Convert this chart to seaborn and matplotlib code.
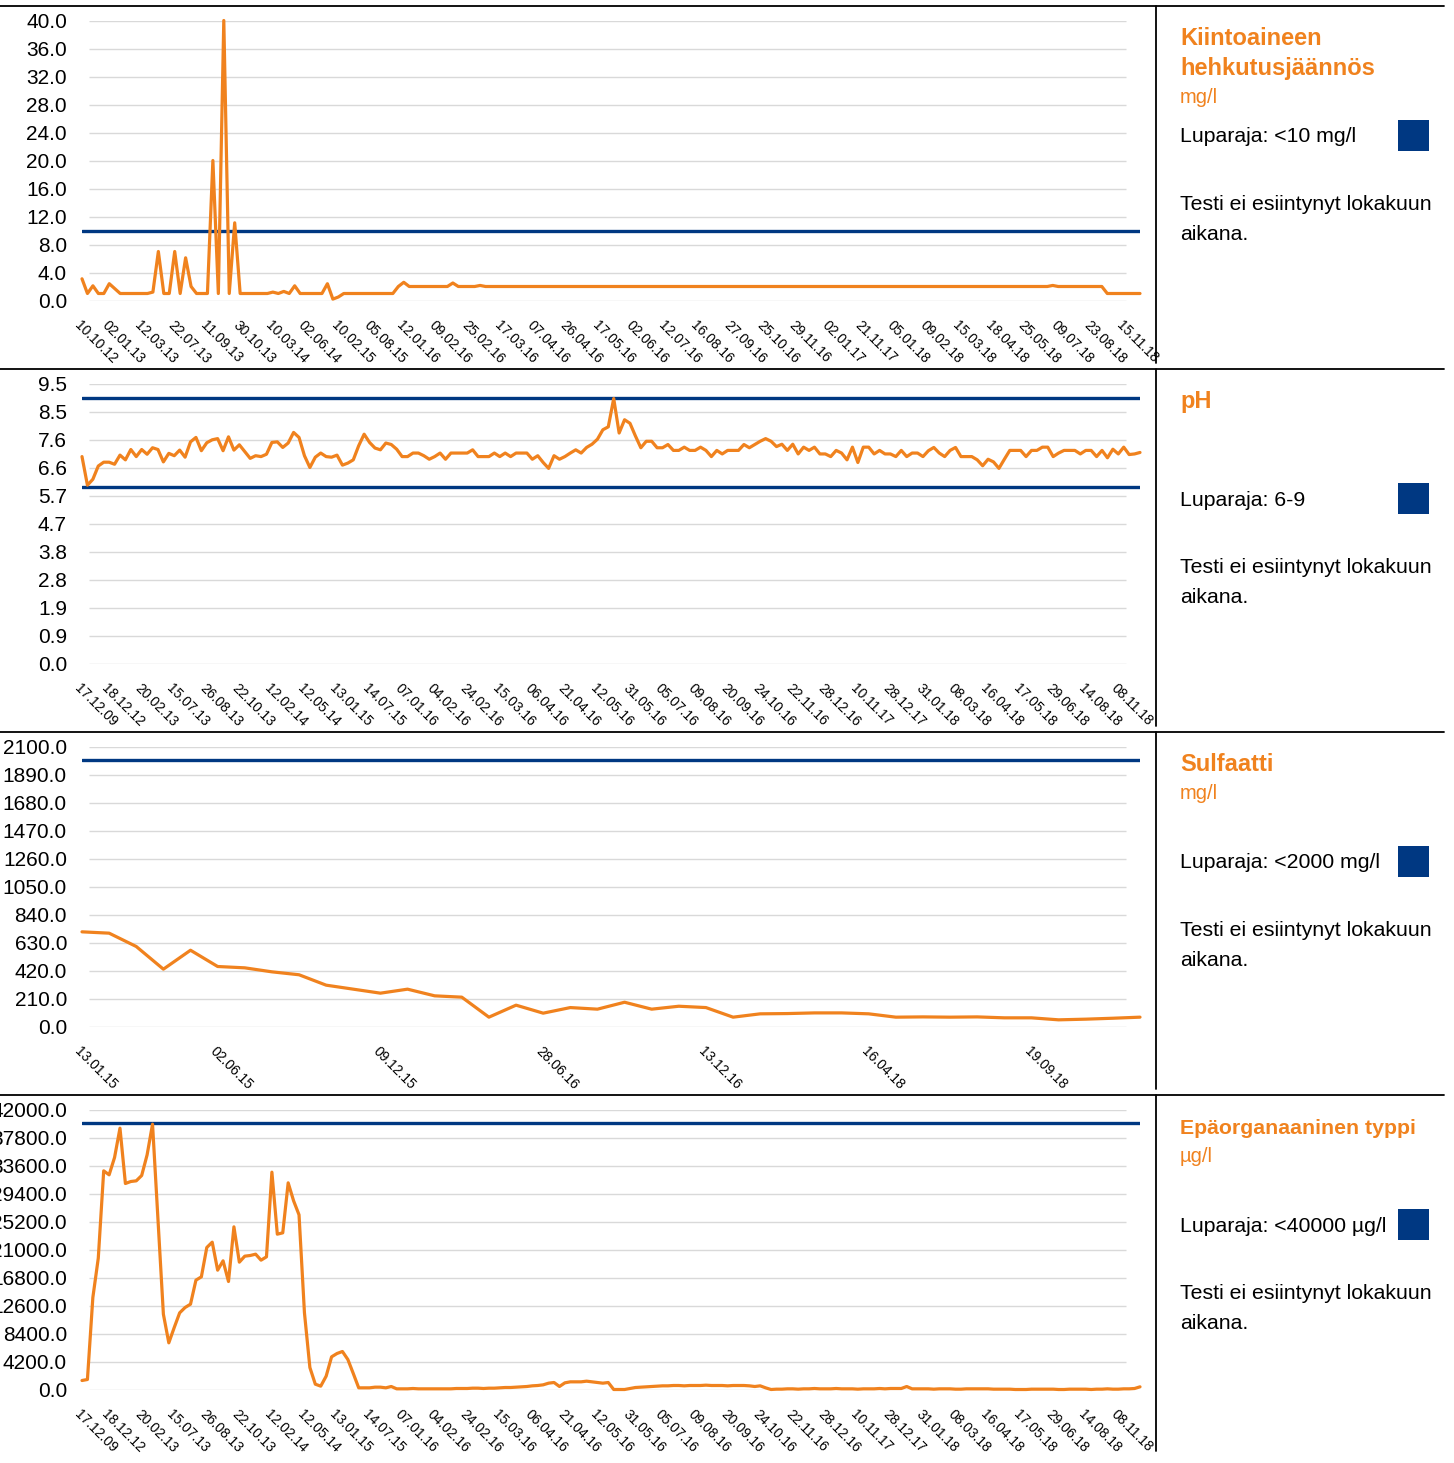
import matplotlib
matplotlib.use("Agg")
import matplotlib.pyplot as plt
from matplotlib.lines import Line2D
from matplotlib.patches import Rectangle
import numpy as np
import seaborn as sns

W, H = 1454, 1463
ORANGE = "#F0821E"
NAVY = "#003882"
GRID = "#D9D9D9"

# ---- panel 1: Kiintoaineen hehkutusjäännös, mg/l
solids = ([3.1, 1.0, 2.1, 1.0, 1.0, 2.4, 1.7, 1.0, 1.0, 1.0,
           1.0, 1.0, 1.0, 1.2, 7.0, 1.0, 1.0, 7.0, 1.0, 6.1,
           2.0, 1.0, 1.0, 1.0, 20.0, 1.0, 40.0, 1.0, 11.1, 1.0]
          + [1.0] * 5
          + [1.2, 1.0, 1.3, 1.0, 2.1, 1.0, 1.0, 1.0, 1.0, 1.0]
          + [2.4, 0.2, 0.5]
          + [1.0] * 10
          + [2.0, 2.6] + [2.0] * 8 + [2.5] + [2.0] * 4 + [2.15]
          + [2.0] * 104 + [2.15] + [2.0] * 9 + [1.0] * 7)
solids_dates = ["10.10.12", "02.01.13", "12.03.13", "22.07.13", "11.09.13", "30.10.13",
                "10.03.14", "02.06.14", "10.02.15", "05.08.15", "12.01.16", "09.02.16",
                "25.02.16", "17.03.16", "07.04.16", "26.04.16", "17.05.16", "02.06.16",
                "12.07.16", "16.08.16", "27.09.16", "25.10.16", "29.11.16", "02.01.17",
                "21.11.17", "05.01.18", "09.02.18", "15.03.18", "18.04.18", "25.05.18",
                "09.07.18", "23.08.18", "15.11.18"]
solids_yticks = [0, 4, 8, 12, 16, 20, 24, 28, 32, 36, 40]
solids_ylabels = ["0.0", "4.0", "8.0", "12.0", "16.0", "20.0", "24.0", "28.0", "32.0", "36.0", "40.0"]

# ---- panel 2: pH
ph = [7.02, 6.05, 6.25, 6.7, 6.83, 6.83, 6.76, 7.07, 6.91, 7.26,
      7.02, 7.26, 7.1, 7.32, 7.26, 6.84, 7.13, 7.05, 7.24, 7.0,
      7.52, 7.67, 7.22, 7.49, 7.59, 7.63, 7.22, 7.69, 7.24, 7.42,
      7.19, 6.96, 7.05, 7.02, 7.1, 7.5, 7.52, 7.33, 7.48, 7.84,
      7.67, 7.05, 6.65, 7.0, 7.14, 7.02, 7.0, 7.07, 6.73, 6.8,
      6.91, 7.39, 7.78, 7.5, 7.31, 7.25, 7.48, 7.43, 7.27,
      7.02, 7.02, 7.14, 7.14, 7.05, 6.93, 7.02, 7.14, 6.93, 7.14,
      7.14, 7.14, 7.14, 7.25, 7.02, 7.02, 7.02, 7.14, 7.02, 7.14,
      7.02, 7.14, 7.14, 7.14, 6.93, 7.05, 6.82, 6.62, 7.05, 6.93,
      7.02, 7.14, 7.25, 7.14, 7.33, 7.44, 7.61, 7.93, 8.03, 8.99,
      7.82, 8.27, 8.15, 7.72, 7.32, 7.54, 7.54, 7.32, 7.32, 7.43,
      7.23, 7.23, 7.34, 7.23, 7.23, 7.34, 7.23, 7.02, 7.23, 7.11,
      7.23, 7.23, 7.23, 7.43, 7.32, 7.43, 7.54, 7.63, 7.54, 7.36,
      7.44, 7.23, 7.44, 7.11, 7.34, 7.23, 7.34, 7.11, 7.11, 7.02,
      7.23, 7.14, 6.91, 7.34, 6.82, 7.34, 7.34, 7.11, 7.23, 7.11,
      7.11, 7.02, 7.23, 7.02, 7.14, 7.14, 7.02, 7.22, 7.33, 7.14,
      7.02, 7.23, 7.33, 7.02, 7.02, 7.02, 6.91, 6.71, 6.93, 6.84,
      6.62, 6.93, 7.23, 7.23, 7.23, 7.02, 7.23, 7.23, 7.34, 7.34,
      7.02, 7.14, 7.23, 7.23, 7.23, 7.11, 7.23, 7.23, 7.02, 7.23,
      6.98, 7.27, 7.11, 7.34, 7.09, 7.11, 7.16]
ph_dates = ["17.12.09", "18.12.12", "20.02.13", "15.07.13", "26.08.13", "22.10.13",
            "12.02.14", "12.05.14", "13.01.15", "14.07.15", "07.01.16", "04.02.16",
            "24.02.16", "15.03.16", "06.04.16", "21.04.16", "12.05.16", "31.05.16",
            "05.07.16", "09.08.16", "20.09.16", "24.10.16", "22.11.16", "28.12.16",
            "10.11.17", "28.12.17", "31.01.18", "08.03.18", "16.04.18", "17.05.18",
            "29.06.18", "14.08.18", "08.11.18"]
ph_yticks = [0, 0.95, 1.9, 2.85, 3.8, 4.75, 5.7, 6.65, 7.6, 8.55, 9.5]
ph_ylabels = ["0.0", "0.9", "1.9", "2.8", "3.8", "4.7", "5.7", "6.6", "7.6", "8.5", "9.5"]

# ---- panel 3: Sulfaatti, mg/l
sulfate = [710, 700, 600, 430, 572, 450, 440, 410, 388, 310,
           280, 250, 280, 230, 220, 70, 160, 100, 142, 130,
           182, 130, 152, 142, 70, 95, 97, 102, 102, 95,
           70, 72, 70, 72, 65, 65, 50, 55, 62, 70]
sulfate_dates = ["13.01.15", "02.06.15", "09.12.15", "28.06.16", "13.12.16", "16.04.18", "19.09.18"]
sulfate_yticks = [0, 210, 420, 630, 840, 1050, 1260, 1470, 1680, 1890, 2100]
sulfate_ylabels = [f"{v:.1f}" for v in sulfate_yticks]

# ---- panel 4: Epäorganaaninen typpi, µg/l (same sampling dates as pH)
nitrogen = ([1350, 1500, 13800, 19700, 32800, 32200, 34800, 39200, 30900, 31200,
             31300, 32100, 35200, 39800, 25500, 11300, 7000, 9300, 11500, 12300,
             12800, 16400, 16900, 21300, 22100, 17900, 19300, 16200, 24400, 19100,
             20000, 20100, 20300, 19400, 19900, 32600, 23300, 23500, 31000, 28300,
             26200, 11500, 3300, 800, 500, 2000, 4900, 5400, 5700, 4500,
             2400, 250, 250, 250, 350, 350, 250, 450, 100]
            + [100, 100, 150, 100, 100, 100, 100, 100, 100, 100, 150, 150, 150, 200, 200, 150, 200]
            + [200, 250, 300, 300, 350, 400, 450, 550, 600, 700, 950,
               1050, 450, 1000, 1150, 1150, 1150, 1250, 1150, 1050, 950, 1050]
            + [0, 0, 0, 150, 300, 350, 400, 450, 500]
            + [550, 550, 600, 600, 550, 600, 600, 600, 650, 600, 600, 600, 550, 600, 600, 600]
            + [550, 450, 550, 250, 0, 50]
            + [50, 100, 100, 50, 100, 100, 150, 100, 100, 100, 150, 100,
               100, 100, 50, 100, 100, 100, 150, 100, 150, 150, 150]
            + [450, 100]
            + [100, 100, 100, 50, 100, 100, 100, 50, 50, 100,
               100, 100, 100, 100, 50, 50, 50, 50, 0, 0,
               0, 50, 50, 50, 50, 50, 0, 0, 50, 50,
               50, 50, 0, 50, 50, 100, 50, 50, 100, 100]
            + [150, 400])
nitrogen_yticks = [0, 4200, 8400, 12600, 16800, 21000, 25200, 29400, 33600, 37800, 42000]
nitrogen_ylabels = [f"{v:.1f}" for v in nitrogen_yticks]

titles = [["Kiintoaineen", "hehkutusjäännös"], ["pH"], ["Sulfaatti"], ["Epäorganaaninen typpi"]]
title_sizes = [17, 17, 17, 15.3]
units = ["mg/l", "", "mg/l", "µg/l"]
limit_texts = ["Luparaja: <10 mg/l", "Luparaja: 6-9", "Luparaja: <2000 mg/l", "Luparaja: <40000 µg/l"]
limits = [[10], [6, 9], [2000], [40000]]
note = ["Testi ei esiintynyt lokakuun", "aikana."]

sns.set_theme(style="white")
plt.rcParams["font.family"] = ["Liberation Sans", "DejaVu Sans"]

fig = plt.figure(figsize=(W / 100, H / 100), dpi=100)
row_tops = [6, 369, 732, 1095]


def fy(y):
    return 1 - y / H


def draw_panel(top, values, dates, tick_idx, yticks, ylabels, lims):
    n = len(values)
    x = np.arange(n)
    ax = fig.add_axes([82 / W, fy(top + 294.5), 1058 / W, 280 / H])
    # Excel-style gridlines: slightly inset from the plot edges
    ax.hlines(yticks, 7 / 1058, 1044 / 1058, transform=ax.get_yaxis_transform(),
              color=GRID, lw=1, zorder=1)
    for lim in lims:
        ax.axhline(lim, color=NAVY, lw=2.4, zorder=2)
    sns.lineplot(x=x, y=values, ax=ax, color=ORANGE, lw=2.3, zorder=3, clip_on=False)
    ax.set_xlim(0, n - 1)
    ax.set_ylim(yticks[0], yticks[-1])
    ax.set_yticks(yticks)
    ax.set_yticklabels(ylabels, fontsize=15, color="black")
    ax.set_xticks(tick_idx)
    ax.set_xticklabels(dates, fontsize=10, color="black", rotation=-45,
                       ha="left", va="top", rotation_mode="anchor")
    ax.tick_params(axis="y", length=0, pad=10.8)
    ax.tick_params(axis="x", length=0, pad=13)
    ax.grid(False)
    for s in ax.spines.values():
        s.set_visible(False)
    ax.set_xlabel("")
    ax.set_ylabel("")
    return ax


def dense_ticks(n):
    return [0] + list(range(5, n - 1, 6))


draw_panel(row_tops[0], solids, solids_dates, dense_ticks(len(solids)), solids_yticks, solids_ylabels, limits[0])
draw_panel(row_tops[1], ph, ph_dates, dense_ticks(len(ph)), ph_yticks, ph_ylabels, limits[1])
draw_panel(row_tops[2], sulfate, sulfate_dates, dense_ticks(len(sulfate)), sulfate_yticks, sulfate_ylabels, limits[2])
draw_panel(row_tops[3], nitrogen, ph_dates, dense_ticks(len(nitrogen)), nitrogen_yticks, nitrogen_ylabels, limits[3])

# side text boxes
for i, top in enumerate(row_tops):
    fig.add_artist(Line2D([0, 1444 / W], [fy(top), fy(top)], color="black", lw=1.3))
    bottom = top + 357 if i < 3 else H - 12
    fig.add_artist(Line2D([1156 / W, 1156 / W], [fy(top), fy(bottom)], color="black", lw=1.3))

    for j, line in enumerate(titles[i]):
        fig.text(1180 / W, fy(top + 39 + 29.5 * j), line, fontsize=title_sizes[i],
                 fontweight="bold", color=ORANGE, va="baseline", ha="left")
    if units[i]:
        fig.text(1180 / W, fy(top + 38 + 29.5 * len(titles[i])), units[i], fontsize=14.5,
                 color=ORANGE, va="baseline", ha="left")
    fig.text(1180 / W, fy(top + 136.5), limit_texts[i], fontsize=15.3, color="black",
             va="baseline", ha="left")
    fig.add_artist(Rectangle((1398 / W, fy(top + 145)), 31 / W, 31 / H,
                             transform=fig.transFigure, color=NAVY, lw=0))
    for j, line in enumerate(note):
        fig.text(1180 / W, fy(top + 204 + 30 * j), line, fontsize=15.3, color="black",
                 va="baseline", ha="left")

fig.savefig("out.png", dpi=100)
plt.close(fig)
